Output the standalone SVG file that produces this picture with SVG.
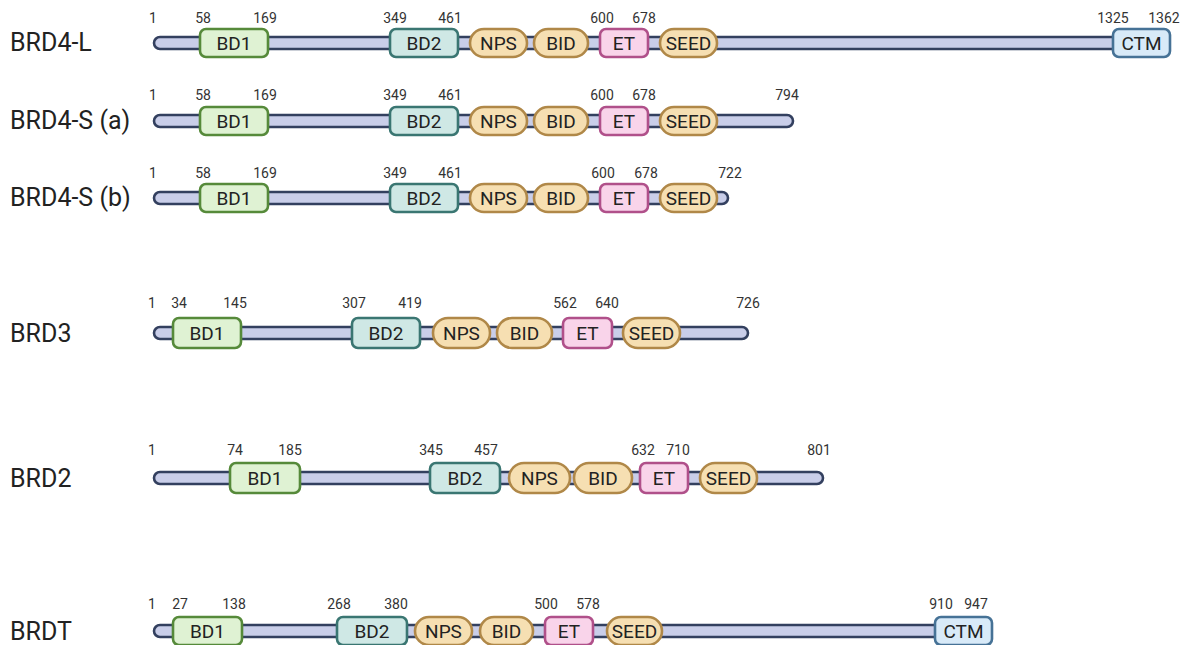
<svg xmlns="http://www.w3.org/2000/svg" width="1186" height="645" viewBox="0 0 1186 645">
<style>
text{font-family:Roboto,"Liberation Sans",sans-serif}
.t{font-size:25px;fill:#222}
.n{font-size:14px;fill:#333;text-anchor:middle}
.l{font-size:19px;fill:#222;text-anchor:middle}
.bar{fill:#c9cee9;stroke:#33405f;stroke-width:2.6}
.bd1{fill:#dff2d3;stroke:#568a3a;stroke-width:2.6}
.bd2{fill:#cfe8e5;stroke:#3a7672;stroke-width:2.6}
.pl{fill:#f6dfb2;stroke:#b08848;stroke-width:2.6}
.et{fill:#f9d4ea;stroke:#b0508a;stroke-width:2.6}
.ctm{fill:#d8eaf8;stroke:#467296;stroke-width:2.6}
</style>
<rect width="1186" height="645" fill="#fff"/>
<g id="connectors">
<rect class="bar" x="154" y="37" width="990" height="12" rx="6"/>
<rect class="bar" x="154" y="115" width="639" height="12" rx="6"/>
<rect class="bar" x="154" y="192" width="574" height="12" rx="6"/>
<rect class="bar" x="154" y="327" width="594" height="12" rx="6"/>
<rect class="bar" x="154" y="472" width="669" height="12" rx="6"/>
<rect class="bar" x="154" y="625" width="800" height="12" rx="6"/>
</g>
<g id="titles">
<text class="t" x="10" y="51">BRD4-L</text>
<text class="t" x="10" y="129">BRD4-S (a)</text>
<text class="t" x="10" y="206">BRD4-S (b)</text>
<text class="t" x="10" y="342">BRD3</text>
<text class="t" x="10" y="487">BRD2</text>
<text class="t" x="10" y="640">BRDT</text>
</g>
<g id="brd4l">
<g id="brd4l-nums">
<text class="n" x="153" y="23">1</text><text class="n" x="203" y="23">58</text><text class="n" x="265" y="23">169</text>
<text class="n" x="395" y="23">349</text><text class="n" x="450" y="23">461</text><text class="n" x="602" y="23">600</text>
<text class="n" x="644" y="23">678</text><text class="n" x="1113" y="23">1325</text><text class="n" x="1164" y="23">1362</text>
</g>
<g id="brd4l-bd1"><rect class="bd1" x="200" y="29" width="68" height="28" rx="6"/><text class="l" x="234" y="49.5">BD1</text></g>
<g id="brd4l-bd2"><rect class="bd2" x="390" y="29" width="68" height="28" rx="6"/><text class="l" x="424" y="49.5">BD2</text></g>
<g id="brd4l-nps"><rect class="pl" x="470" y="29" width="57" height="28" rx="14"/><text class="l" x="498.5" y="49.5">NPS</text></g>
<g id="brd4l-bid"><rect class="pl" x="534" y="29" width="54" height="28" rx="14"/><text class="l" x="561" y="49.5">BID</text></g>
<g id="brd4l-et"><rect class="et" x="600" y="29" width="48" height="28" rx="6"/><text class="l" x="624" y="49.5">ET</text></g>
<g id="brd4l-seed"><rect class="pl" x="660" y="29" width="57" height="28" rx="14"/><text class="l" x="688.5" y="49.5">SEED</text></g>
<g id="brd4l-ctm"><rect class="ctm" x="1113" y="29" width="57" height="28" rx="6"/><text class="l" x="1141.5" y="49.5">CTM</text></g>
</g>
<g id="brd4sa">
<g id="brd4sa-nums">
<text class="n" x="153" y="100">1</text><text class="n" x="203" y="100">58</text><text class="n" x="265" y="100">169</text>
<text class="n" x="395" y="100">349</text><text class="n" x="450" y="100">461</text><text class="n" x="602" y="100">600</text>
<text class="n" x="644" y="100">678</text><text class="n" x="787" y="100">794</text>
</g>
<g id="brd4sa-bd1"><rect class="bd1" x="200" y="107" width="68" height="28" rx="6"/><text class="l" x="234" y="127.5">BD1</text></g>
<g id="brd4sa-bd2"><rect class="bd2" x="390" y="107" width="68" height="28" rx="6"/><text class="l" x="424" y="127.5">BD2</text></g>
<g id="brd4sa-nps"><rect class="pl" x="470" y="107" width="57" height="28" rx="14"/><text class="l" x="498.5" y="127.5">NPS</text></g>
<g id="brd4sa-bid"><rect class="pl" x="534" y="107" width="54" height="28" rx="14"/><text class="l" x="561" y="127.5">BID</text></g>
<g id="brd4sa-et"><rect class="et" x="600" y="107" width="48" height="28" rx="6"/><text class="l" x="624" y="127.5">ET</text></g>
<g id="brd4sa-seed"><rect class="pl" x="660" y="107" width="57" height="28" rx="14"/><text class="l" x="688.5" y="127.5">SEED</text></g>
</g>
<g id="brd4sb">
<g id="brd4sb-nums">
<text class="n" x="153" y="178">1</text><text class="n" x="203" y="178">58</text><text class="n" x="265" y="178">169</text>
<text class="n" x="395" y="178">349</text><text class="n" x="450" y="178">461</text><text class="n" x="603" y="178">600</text>
<text class="n" x="646" y="178">678</text><text class="n" x="730" y="178">722</text>
</g>
<g id="brd4sb-bd1"><rect class="bd1" x="200" y="184" width="68" height="28" rx="6"/><text class="l" x="234" y="204.5">BD1</text></g>
<g id="brd4sb-bd2"><rect class="bd2" x="390" y="184" width="68" height="28" rx="6"/><text class="l" x="424" y="204.5">BD2</text></g>
<g id="brd4sb-nps"><rect class="pl" x="470" y="184" width="57" height="28" rx="14"/><text class="l" x="498.5" y="204.5">NPS</text></g>
<g id="brd4sb-bid"><rect class="pl" x="534" y="184" width="54" height="28" rx="14"/><text class="l" x="561" y="204.5">BID</text></g>
<g id="brd4sb-et"><rect class="et" x="600" y="184" width="48" height="28" rx="6"/><text class="l" x="624" y="204.5">ET</text></g>
<g id="brd4sb-seed"><rect class="pl" x="660" y="184" width="57" height="28" rx="14"/><text class="l" x="688.5" y="204.5">SEED</text></g>
</g>
<g id="brd3">
<g id="brd3-nums">
<text class="n" x="152" y="308">1</text><text class="n" x="179" y="308">34</text><text class="n" x="235" y="308">145</text>
<text class="n" x="354" y="308">307</text><text class="n" x="410" y="308">419</text><text class="n" x="565" y="308">562</text>
<text class="n" x="607" y="308">640</text><text class="n" x="748" y="308">726</text>
</g>
<g id="brd3-bd1"><rect class="bd1" x="173" y="318" width="68" height="30" rx="6"/><text class="l" x="207" y="339.5">BD1</text></g>
<g id="brd3-bd2"><rect class="bd2" x="352" y="318" width="68" height="30" rx="6"/><text class="l" x="386" y="339.5">BD2</text></g>
<g id="brd3-nps"><rect class="pl" x="433" y="318" width="57" height="30" rx="15"/><text class="l" x="461.5" y="339.5">NPS</text></g>
<g id="brd3-bid"><rect class="pl" x="497" y="318" width="55" height="30" rx="15"/><text class="l" x="524.5" y="339.5">BID</text></g>
<g id="brd3-et"><rect class="et" x="563" y="318" width="49" height="30" rx="6"/><text class="l" x="587.5" y="339.5">ET</text></g>
<g id="brd3-seed"><rect class="pl" x="623" y="318" width="57" height="30" rx="15"/><text class="l" x="651.5" y="339.5">SEED</text></g>
</g>
<g id="brd2">
<g id="brd2-nums">
<text class="n" x="152" y="455">1</text><text class="n" x="235" y="455">74</text><text class="n" x="290" y="455">185</text>
<text class="n" x="431" y="455">345</text><text class="n" x="486" y="455">457</text><text class="n" x="643" y="455">632</text>
<text class="n" x="678" y="455">710</text><text class="n" x="819" y="455">801</text>
</g>
<g id="brd2-bd1"><rect class="bd1" x="230" y="463" width="70" height="30" rx="6"/><text class="l" x="265" y="484.5">BD1</text></g>
<g id="brd2-bd2"><rect class="bd2" x="430" y="463" width="70" height="30" rx="6"/><text class="l" x="465" y="484.5">BD2</text></g>
<g id="brd2-nps"><rect class="pl" x="509" y="463" width="61" height="30" rx="15"/><text class="l" x="539.5" y="484.5">NPS</text></g>
<g id="brd2-bid"><rect class="pl" x="574" y="463" width="58" height="30" rx="15"/><text class="l" x="603" y="484.5">BID</text></g>
<g id="brd2-et"><rect class="et" x="640" y="463" width="48" height="30" rx="6"/><text class="l" x="664" y="484.5">ET</text></g>
<g id="brd2-seed"><rect class="pl" x="700" y="463" width="57" height="30" rx="15"/><text class="l" x="728.5" y="484.5">SEED</text></g>
</g>
<g id="brdt">
<g id="brdt-nums">
<text class="n" x="152" y="609">1</text><text class="n" x="180" y="609">27</text><text class="n" x="234" y="609">138</text>
<text class="n" x="339" y="609">268</text><text class="n" x="396" y="609">380</text><text class="n" x="546" y="609">500</text>
<text class="n" x="588" y="609">578</text><text class="n" x="941" y="609">910</text><text class="n" x="976" y="609">947</text>
</g>
<g id="brdt-bd1"><rect class="bd1" x="173" y="617" width="69" height="28" rx="6"/><text class="l" x="207.5" y="637.5">BD1</text></g>
<g id="brdt-bd2"><rect class="bd2" x="337" y="617" width="70" height="28" rx="6"/><text class="l" x="372" y="637.5">BD2</text></g>
<g id="brdt-nps"><rect class="pl" x="415" y="617" width="57" height="28" rx="14"/><text class="l" x="443.5" y="637.5">NPS</text></g>
<g id="brdt-bid"><rect class="pl" x="480" y="617" width="53" height="28" rx="14"/><text class="l" x="506.5" y="637.5">BID</text></g>
<g id="brdt-et"><rect class="et" x="545" y="617" width="48" height="28" rx="6"/><text class="l" x="569" y="637.5">ET</text></g>
<g id="brdt-seed"><rect class="pl" x="607" y="617" width="55" height="28" rx="14"/><text class="l" x="634.5" y="637.5">SEED</text></g>
<g id="brdt-ctm"><rect class="ctm" x="935" y="617" width="57" height="28" rx="6"/><text class="l" x="963.5" y="637.5">CTM</text></g>
</g>
</svg>
